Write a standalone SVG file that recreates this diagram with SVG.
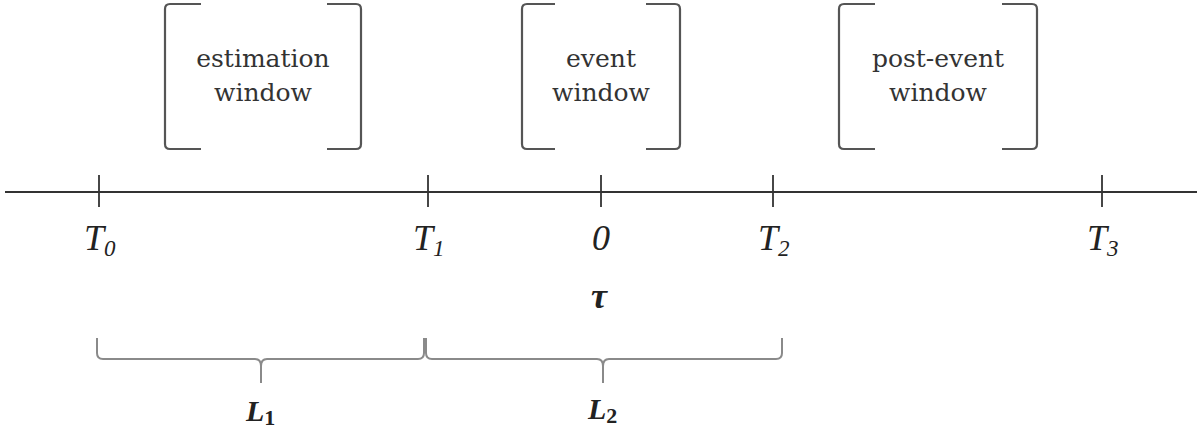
<svg xmlns="http://www.w3.org/2000/svg" width="1197" height="429" viewBox="0 0 1197 429">
<style>
.bk{fill:none;stroke:#555;stroke-width:2.2}
.br{fill:none;stroke:#8a8a8a;stroke-width:2}
.ax{stroke:#333;stroke-width:2;fill:none}
.tk{stroke:#333;stroke-width:1.8}
.wt{font-family:"DejaVu Serif","Liberation Serif",serif;font-size:25px;fill:#333;text-anchor:middle}
.mt{font-family:"Liberation Serif",serif;font-style:italic;font-size:36px;fill:#222}
.sb{font-size:23px}
.lb{font-family:"Liberation Serif",serif;font-style:italic;font-weight:bold;font-size:30px;fill:#222}
.ls{font-style:normal;font-size:22px}
</style>
<rect width="1197" height="429" fill="#fff"/>
<g id="estimation-window">
<path class="bk" d="M201 4 L170 4 Q165 4 165 9 L165 144 Q165 149 170 149 L201 149"/>
<path class="bk" d="M327 4 L356 4 Q361 4 361 9 L361 144 Q361 149 356 149 L327 149"/>
<text class="wt" x="263" y="67">estimation</text>
<text class="wt" x="263" y="101">window</text>
</g>
<g id="event-window">
<path class="bk" d="M555 4 L527 4 Q522 4 522 9 L522 144 Q522 149 527 149 L555 149"/>
<path class="bk" d="M646 4 L675 4 Q680 4 680 9 L680 144 Q680 149 675 149 L646 149"/>
<text class="wt" x="601" y="67">event</text>
<text class="wt" x="601" y="101">window</text>
</g>
<g id="post-event-window">
<path class="bk" d="M875 4 L844 4 Q839 4 839 9 L839 144 Q839 149 844 149 L875 149"/>
<path class="bk" d="M1002 4 L1032 4 Q1037 4 1037 9 L1037 144 Q1037 149 1032 149 L1002 149"/>
<text class="wt" x="938" y="67">post-event</text>
<text class="wt" x="938" y="101">window</text>
</g>
<g id="axis">
<line class="ax" x1="5" y1="192" x2="1197" y2="192"/>
<line class="tk" x1="99" y1="175" x2="99" y2="207"/>
<line class="tk" x1="428" y1="175" x2="428" y2="207"/>
<line class="tk" x1="601" y1="175" x2="601" y2="207"/>
<line class="tk" x1="773" y1="175" x2="773" y2="207"/>
<line class="tk" x1="1102" y1="175" x2="1102" y2="207"/>
</g>
<g id="tick-labels">
<text class="mt" x="84" y="250">T<tspan class="sb" dy="6">0</tspan></text>
<text class="mt" x="413" y="250">T<tspan class="sb" dy="6">1</tspan></text>
<text class="mt" x="592" y="250">0</text>
<text class="mt" x="758" y="250">T<tspan class="sb" dy="6">2</tspan></text>
<text class="mt" x="1087" y="250">T<tspan class="sb" dy="6">3</tspan></text>
<text class="mt" x="591" y="308" font-weight="bold">τ</text>
</g>
<g id="connectors">
<path class="br" d="M97 338 L97 353 Q97 359 103 359 L255 359 Q261 359 261 366 L261 383 M261 366 Q261 359 267 359 L418 359 Q424 359 424 353 L424 338"/>
<path class="br" d="M426 338 L426 353 Q426 359 432 359 L597 359 Q603 359 603 366 L603 383 M603 366 Q603 359 609 359 L776 359 Q782 359 782 353 L782 338"/>
</g>
<g id="brace-labels">
<text class="lb" x="246" y="421">L<tspan class="ls" dy="4">1</tspan></text>
<text class="lb" x="588" y="419">L<tspan class="ls" dy="4">2</tspan></text>
</g>
</svg>
